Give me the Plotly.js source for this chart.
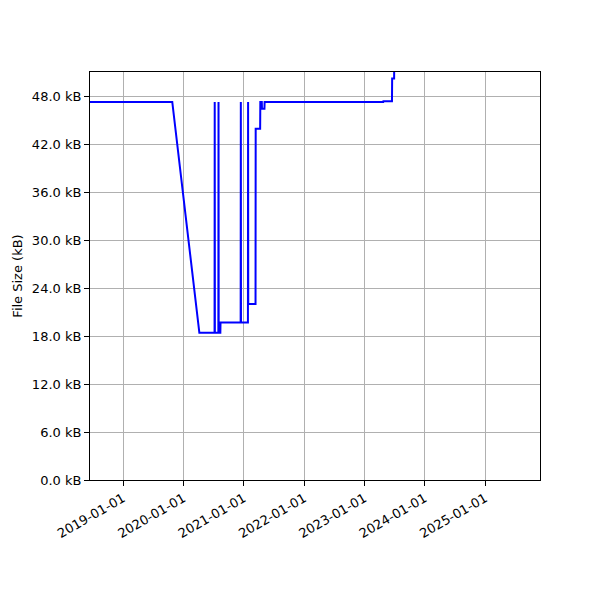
<!DOCTYPE html>
<html>
<head>
<meta charset="utf-8">
<script src="https://cdn.plot.ly/plotly-3.0.1.min.js"></script>
<style>html,body{margin:0;padding:0;background:#fff}#chart{width:600px;height:600px}</style>
</head>
<body>
<div id="chart"></div>
<script>
const dates = [
  "2018-01-01","2019-10-26","2020-04-07",
  "2020-07-08","2020-07-09","2020-07-10",
  "2020-07-31","2020-08-01","2020-08-02",
  "2020-08-12","2020-08-13",
  "2020-12-13","2020-12-14","2020-12-15",
  "2021-01-26","2021-01-27","2021-01-28",
  "2021-03-13","2021-03-14",
  "2021-04-10","2021-04-11",
  "2021-04-20","2021-04-21",
  "2021-05-06","2021-05-07",
  "2023-04-25","2023-04-26",
  "2023-06-17","2023-06-18",
  "2023-06-30","2023-07-01"
];
const sizesKB = [
  47.25,47.25,18.4,
  18.4,47.25,18.4,
  18.4,47.25,18.4,
  18.4,19.7,
  19.7,47.25,19.7,
  19.7,47.25,22.0,
  22.0,43.9,
  43.9,47.25,
  47.25,46.4,
  46.4,47.25,
  47.25,47.35,
  47.35,50.2,
  50.2,56
];
const tickDates = ["2019-01-01","2020-01-01","2021-01-01","2022-01-01","2023-01-01","2024-01-01","2025-01-01"];
const yTicks = [0,6,12,18,24,30,36,42,48];
const yTickText = ["0.0 kB","6.0 kB","12.0 kB","18.0 kB","24.0 kB","30.0 kB","36.0 kB","42.0 kB","48.0 kB"];
const yTitle = "File Size (kB)";

const font = {family: "DejaVu Sans", size: 13, color: "#000"};
Plotly.newPlot("chart", [{
  x: dates, y: sizesKB, type: "scatter", mode: "lines",
  line: {color: "#0000ff", width: 2}, hoverinfo: "skip"
}], {
  width: 600, height: 600,
  margin: {l: 90, r: 60, t: 72, b: 120},
  paper_bgcolor: "#fff", plot_bgcolor: "#fff",
  showlegend: false,
  font: font,
  xaxis: {
    type: "date", range: ["2018-06-15","2025-11-29"],
    tickvals: tickDates, ticktext: tickDates, tickangle: -30,
    showgrid: true, gridcolor: "#b0b0b0", gridwidth: 1,
    showline: true, linecolor: "#000", linewidth: 1, mirror: true,
    ticks: "outside", ticklen: 5, tickcolor: "#000",
    zeroline: false, tickfont: font
  },
  yaxis: {
    range: [0, 51], tickmode: "array", tickvals: yTicks, ticktext: yTickText,
    showgrid: true, gridcolor: "#b0b0b0", gridwidth: 1,
    showline: true, linecolor: "#000", linewidth: 1, mirror: true,
    ticks: "outside", ticklen: 5, tickcolor: "#000",
    zeroline: false, tickfont: font,
    title: {text: yTitle, font: font, standoff: 6}
  }
}, {staticPlot: true});
</script>
</body>
</html>
